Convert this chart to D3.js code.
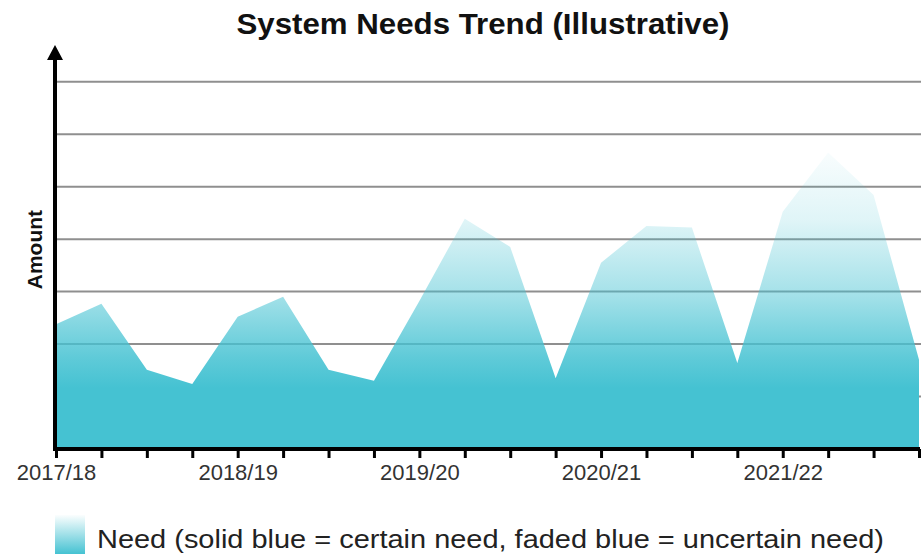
<!DOCTYPE html>
<html>
<head>
<meta charset="utf-8">
<script src="https://cdn.jsdelivr.net/npm/d3@7"></script>
<style>
  body { margin: 0; background: #fff; }
  text { font-family: "Liberation Sans", Arial, Helvetica, sans-serif; }
</style>
</head>
<body>
<div id="chart"></div>
<script>
const quarters = [
  "2017/18 Q1", "2017/18 Q2", "2017/18 Q3", "2017/18 Q4",
  "2018/19 Q1", "2018/19 Q2", "2018/19 Q3", "2018/19 Q4",
  "2019/20 Q1", "2019/20 Q2", "2019/20 Q3", "2019/20 Q4",
  "2020/21 Q1", "2020/21 Q2", "2020/21 Q3", "2020/21 Q4",
  "2021/22 Q1", "2021/22 Q2", "2021/22 Q3", "2021/22 Q4"
];
const need = [
  2.38, 2.77, 1.51, 1.24,
  2.52, 2.90, 1.51, 1.30,
  2.82, 4.39, 3.85, 1.35,
  3.55, 4.25, 4.22, 1.64,
  4.52, 5.65, 4.84, 1.70
];
const yearLabels = ["2017/18", "2018/19", "2019/20", "2020/21", "2021/22"];
const gridValues = [1, 2, 3, 4, 5, 6, 7];

const width = 924;
const height = 554;

const svg = d3.select("#chart")
  .append("svg")
  .attr("width", width)
  .attr("height", height);

const x = d3.scalePoint()
  .domain(quarters)
  .range([56, 919]);

const y = d3.scaleLinear()
  .domain([0, 7.7])
  .range([449, 45]);

// gradient: solid teal at the bottom, fading out towards the top
const defs = svg.append("defs");
const grad = defs.append("linearGradient")
  .attr("id", "needFill")
  .attr("gradientUnits", "userSpaceOnUse")
  .attr("x1", 0).attr("x2", 0)
  .attr("y1", y(5.8)).attr("y2", y(0));
[[0, 0.02], [0.25, 0.17], [0.5, 0.5], [0.7, 0.86], [0.8, 1], [1, 1]].forEach(([o, a]) => {
  grad.append("stop")
    .attr("offset", o)
    .attr("stop-color", "#45c2d2")
    .attr("stop-opacity", a);
});

const legendGrad = defs.append("linearGradient")
  .attr("id", "legendFill")
  .attr("x1", 0).attr("x2", 0)
  .attr("y1", 0).attr("y2", 1);
legendGrad.append("stop").attr("offset", 0).attr("stop-color", "#45c2d2").attr("stop-opacity", 0.02);
legendGrad.append("stop").attr("offset", 1).attr("stop-color", "#45c2d2").attr("stop-opacity", 1);

// title
svg.append("text")
  .attr("x", 483)
  .attr("y", 34)
  .attr("text-anchor", "middle")
  .attr("font-size", 29)
  .attr("font-weight", "bold")
  .attr("fill", "#111")
  .attr("textLength", 493)
  .attr("lengthAdjust", "spacingAndGlyphs")
  .text("System Needs Trend (Illustrative)");

// gridlines
svg.append("g")
  .selectAll("line")
  .data(gridValues)
  .enter()
  .append("line")
  .attr("x1", 57)
  .attr("x2", 921)
  .attr("y1", (d) => y(d))
  .attr("y2", (d) => y(d))
  .attr("stroke", "#8f8f8f")
  .attr("stroke-width", 2);

// area
const area = d3.area()
  .x((d, i) => x(quarters[i]))
  .y0(y(0))
  .y1((d) => y(d));

svg.append("path")
  .datum(need)
  .attr("d", area)
  .attr("fill", "url(#needFill)");

// x axis
const xAxis = d3.axisBottom(x)
  .tickSize(9)
  .tickPadding(6)
  .tickFormat((d, i) => (i % 4 === 0 ? yearLabels[i / 4] : ""));

const gx = svg.append("g")
  .attr("transform", `translate(0, ${y(0)})`)
  .call(xAxis);
gx.select(".domain")
  .attr("d", `M${x(quarters[0]) - 2},0H${x(quarters[quarters.length - 1]) + 1}`)
  .attr("stroke", "#000")
  .attr("stroke-width", 4);
gx.selectAll(".tick line")
  .attr("stroke", "#000")
  .attr("stroke-width", 3);
gx.selectAll(".tick text")
  .attr("font-size", 22)
  .attr("fill", "#333")
  .style("font-family", "Liberation Sans, Arial, sans-serif");

// y axis with arrow
const axisX = 55;
svg.append("line")
  .attr("x1", axisX).attr("x2", axisX)
  .attr("y1", y(0) + 2).attr("y2", y(7.7) + 12)
  .attr("stroke", "#000")
  .attr("stroke-width", 4);
svg.append("path")
  .attr("d", `M${axisX},${y(7.7)}L${axisX + 8},${y(7.7) + 15}L${axisX - 8},${y(7.7) + 15}Z`)
  .attr("fill", "#000");

svg.append("text")
  .attr("transform", `translate(42, ${y(3.8)}) rotate(-90)`)
  .attr("text-anchor", "middle")
  .attr("font-size", 21)
  .attr("font-weight", "bold")
  .attr("fill", "#111")
  .text("Amount");

// legend
svg.append("rect")
  .attr("x", 55)
  .attr("y", 515)
  .attr("width", 30)
  .attr("height", 39)
  .attr("fill", "url(#legendFill)");

svg.append("text")
  .attr("x", 97)
  .attr("y", 548)
  .attr("font-size", 26)
  .attr("fill", "#222")
  .attr("textLength", 787)
  .attr("lengthAdjust", "spacingAndGlyphs")
  .text("Need (solid blue = certain need, faded blue = uncertain need)");
</script>
</body>
</html>
